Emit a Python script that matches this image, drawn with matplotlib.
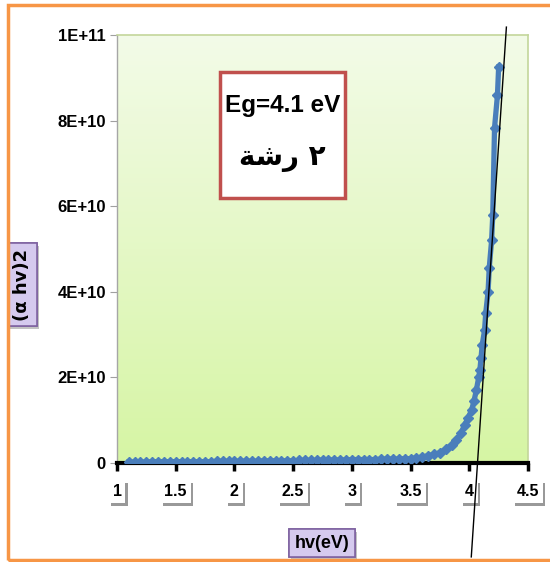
import numpy as np
import matplotlib
matplotlib.use('Agg')
import matplotlib.pyplot as plt
import matplotlib.patheffects as pe
from matplotlib.patches import Rectangle
from matplotlib.colors import LinearSegmentedColormap

# photon energy (eV) and (alpha*h*nu)^2 in units of 1e10
hv = [1.10, 1.15, 1.20, 1.25, 1.30, 1.35, 1.40, 1.45, 1.50, 1.55, 1.60, 1.65, 1.70,
      1.75, 1.80, 1.85, 1.90, 1.95, 2.00, 2.05, 2.10, 2.15, 2.20, 2.25, 2.30, 2.35,
      2.40, 2.45, 2.50, 2.55, 2.60, 2.65, 2.70, 2.75, 2.80, 2.85, 2.90, 2.95, 3.00,
      3.05, 3.10, 3.15, 3.20, 3.25, 3.30, 3.35, 3.40, 3.45, 3.50, 3.55, 3.60, 3.65,
      3.70, 3.75, 3.80, 3.85, 3.89, 3.93, 3.96, 3.99, 4.02, 4.04, 4.06, 4.08, 4.09,
      4.10, 4.11, 4.13, 4.14, 4.16, 4.17, 4.19, 4.20, 4.215, 4.24, 4.25]
ahv2 = [0.02, 0.02, 0.02, 0.02, 0.03, 0.03, 0.03, 0.03, 0.03, 0.03, 0.03, 0.03, 0.03,
        0.03, 0.03, 0.04, 0.04, 0.04, 0.04, 0.04, 0.04, 0.04, 0.04, 0.05, 0.05, 0.05,
        0.05, 0.05, 0.05, 0.06, 0.06, 0.06, 0.06, 0.07, 0.07, 0.07, 0.07, 0.07, 0.08,
        0.08, 0.08, 0.08, 0.08, 0.09, 0.09, 0.09, 0.09, 0.10, 0.10, 0.12, 0.14, 0.17,
        0.20, 0.24, 0.32, 0.42, 0.54, 0.70, 0.89, 1.05, 1.24, 1.45, 1.70, 2.00, 2.17,
        2.45, 2.76, 3.10, 3.50, 4.00, 4.56, 5.20, 5.80, 7.83, 8.60, 9.25]

# tangent (Tauc extrapolation)
eg = 4.07
slope = 41.4          # 1e10 per eV
tan_x = [4.017, 4.316]

xticks = [1, 1.5, 2, 2.5, 3, 3.5, 4, 4.5]
xticklabels = ['1', '1.5', '2', '2.5', '3', '3.5', '4', '4.5']
yticks = [0, 2e10, 4e10, 6e10, 8e10, 1e11]
yticklabels = ['0', '2E+10', '4E+10', '6E+10', '8E+10', '1E+11']

FONT = ['Liberation Sans Narrow', 'Liberation Sans', 'DejaVu Sans']
plt.rcParams['font.family'] = FONT
plt.rcParams['font.weight'] = 'bold'

fig = plt.figure(figsize=(5.5, 5.62), dpi=100)
ax = fig.add_axes([117/550, 1-463/562, 411/550, 428/562])

# gradient plot background
grad = LinearSegmentedColormap.from_list('g', ['#d6f5a4', '#f3fbe8'])
ax.imshow(np.linspace(0, 1, 256).reshape(-1, 1)[::-1], cmap=grad, aspect='auto',
          extent=[0, 1, 0, 1], transform=ax.transAxes, zorder=0)

y = np.array(ahv2) * 1e10
ax.plot(hv, y, color='#4a7ebb', lw=3.8, marker='D', ms=5.5, mec='#4a7ebb', zorder=3)

tx = np.array(tan_x)
ax.plot(tx, (tx - eg) * slope * 1e10, color='black', lw=1, clip_on=False, zorder=4)

ax.set_xlim(1, 4.5)
ax.set_ylim(0, 1e11)
ax.set_xticks(xticks, xticklabels, fontsize=11.5, fontweight='bold')
ax.set_yticks(yticks, yticklabels, fontsize=12, fontweight='bold')
ax.tick_params(axis='x', length=6, width=2.5, color='black', pad=9)
ax.tick_params(axis='y', length=5, width=0.8, color='#a0a0a0', pad=3)

for lab in ax.get_xticklabels():
    lab.set_bbox(dict(boxstyle='square,pad=0.25', fc='white', ec='none'))
    lab.get_bbox_patch().set_path_effects([
        pe.withSimplePatchShadow(offset=(1.5, -2.5), shadow_rgbFace='#555555', alpha=0.6),
        pe.Normal()])

for s in ['top', 'right']:
    ax.spines[s].set_color('#c3d69b')
    ax.spines[s].set_linewidth(1.2)
ax.spines['left'].set_color('#a6a6a6')
ax.spines['left'].set_linewidth(1)
ax.spines['bottom'].set_color('black')
ax.spines['bottom'].set_linewidth(3)

# axis titles in lavender boxes
box = dict(boxstyle='square,pad=0.3', fc='#d5caee', ec='#8064a2', lw=1.2)
xl = ax.set_xlabel('hv(eV)', fontsize=13, fontweight='bold', bbox=box)
ax.xaxis.set_label_coords(0.499, -0.168)
yl = ax.set_ylabel('(α hv)2', fontsize=13, fontweight='bold', bbox=box,
                   family=['DejaVu Sans'])
ax.yaxis.set_label_coords(-0.209, 0.416)
for t in (xl, yl):
    t.get_bbox_patch().set_path_effects([
        pe.withSimplePatchShadow(offset=(1.5, -1.5), shadow_rgbFace='#888888', alpha=0.5),
        pe.Normal()])

# annotation box
ax.add_patch(Rectangle((0.251, 0.619), 0.304, 0.294, transform=ax.transAxes,
                       fc='white', ec='#c0504d', lw=2.5, zorder=5))
ax.text(0.403, 0.835, 'Eg=4.1 eV', transform=ax.transAxes, ha='center', va='center',
        fontsize=17.5, fontweight='bold', zorder=6)
# Arabic "٢ رشة" written in visual order with presentation forms
ax.text(0.403, 0.712, '\uFE94\uFEB7\uFEAD \u0662', transform=ax.transAxes,
        ha='center', va='center', fontsize=20, fontweight='bold',
        family=['DejaVu Sans'], zorder=6)

# orange frame around the figure
fig.patches.append(Rectangle((8/550, 1-560/562), 1.05, 555/562, transform=fig.transFigure,
                             fill=False, ec='#f79646', lw=2.5))

fig.savefig('out.png', dpi=100)
